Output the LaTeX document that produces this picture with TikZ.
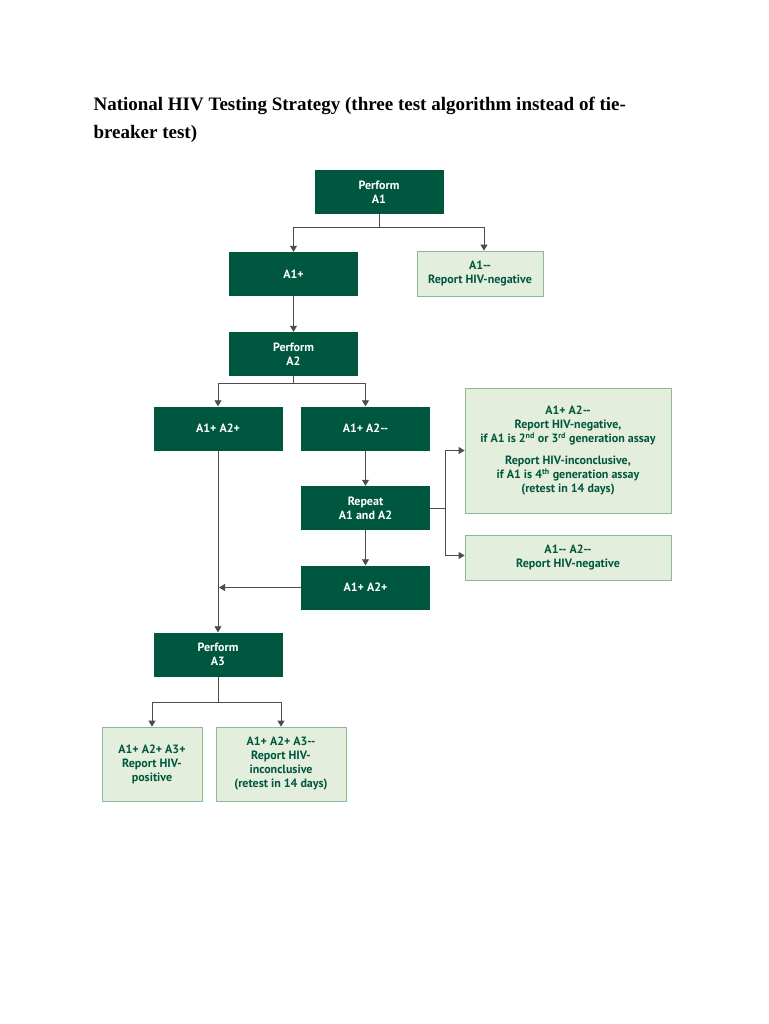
\documentclass[tikz,border=0pt]{standalone}
\usepackage{fontspec}
\setmainfont{Liberation Serif}
\newfontfamily\boxfont{PT Sans}
\usetikzlibrary{arrows.meta, positioning, calc}

\definecolor{darkgreen}{HTML}{00573F}
\definecolor{palegreen}{HTML}{E4EEDC}
\definecolor{edgegreen}{HTML}{8DB89A}

\begin{document}
\begin{tikzpicture}[
                    x=1pt, y=-1pt,
                    >={Triangle[width=7pt,length=6pt]},
                    action/.style={rectangle, fill=darkgreen, text=white, font=\boxfont\bfseries\fontsize{12}{14}\selectfont,
                                 minimum width=129pt, minimum height=44pt, align=center, inner sep=1pt},
                    report/.style={rectangle, fill=palegreen, draw=edgegreen, line width=0.8pt, text=darkgreen,
                                   font=\boxfont\bfseries\fontsize{12}{14}\selectfont, align=center, inner sep=1pt},
                    link/.style={draw=black!70, line width=0.8pt},
                ]
                \useasboundingbox (0,0) rectangle (768,1024);
                \node[anchor=west, font=\bfseries\fontsize{19}{28}\selectfont, align=left] (title) at (90,120)
                        {National HIV Testing Strategy (three test algorithm instead of tie-\\breaker test)};

                \node[action] (pa1) at (379,192) {Perform\\A1};
                \node[action] (a1p) at (293.5,274) {A1+};
                \node[report, minimum width=126pt, minimum height=45pt] (a1n) at (480,273.5) {A1--\\Report HIV-negative};
                \node[action] (pa2) at (293.5,354) {Perform\\A2};
                \node[action] (bothp) at (218,428.5) {A1+ A2+};
                \node[action] (a2n) at (365.5,428.5) {A1+ A2--};
                \node[action] (rep) at (365.5,508) {Repeat\\A1 and A2};
                \node[report, minimum width=206pt, minimum height=125pt] (res1) at (568,450.5)
                        {A1+ A2--\\Report HIV-negative,\\if A1 is 2\textsuperscript{nd} or 3\textsuperscript{rd} generation assay\\[8pt]
                         Report HIV-inconclusive,\\if A1 is 4\textsuperscript{th} generation assay\\(retest in 14 days)};
                \node[report, minimum width=206pt, minimum height=45pt] (res2) at (568,557.5) {A1-- A2--\\Report HIV-negative};
                \node[action] (again) at (365.5,587.5) {A1+ A2+};
                \node[action] (pa3) at (218,654.5) {Perform\\A3};
                \node[report, minimum width=100pt, minimum height=74pt] (pos) at (152,764) {A1+ A2+ A3+\\Report HIV-\\positive};
                \node[report, minimum width=130pt, minimum height=74pt] (inc) at (281,764) {A1+ A2+ A3--\\Report HIV-\\inconclusive\\(retest in 14 days)};

                % branches
                \draw[link, ->] (pa1.south) -- ++(0,13) -| (a1p.north);
                \draw[link, ->] (pa1.south) -- ++(0,13) -| ($(a1n.north)+(4,0)$);
                \draw[link, ->] (a1p) -- (pa2);
                \draw[link, ->] (pa2.south) -- ++(0,7) -| (bothp.north);
                \draw[link, ->] (pa2.south) -- ++(0,7) -| (a2n.north);
                \draw[link, ->] (a2n) -- (rep);
                \draw[link, ->] (rep.east) -- ++(15,0) |- (res1.west);
                \draw[link, ->] (rep.east) -- ++(15,0) |- ($(res2.west)+(0,-2)$);
                \draw[link, ->] (rep) -- (again);
                \draw[link, ->] (bothp) -- (pa3);
                \draw[link, ->] (again.west) -- ($(again.west -| bothp)+(1,0)$);
                \draw[link, ->] (pa3.south) -- ++(0,26) -| (pos.north);
                \draw[link, ->] (pa3.south) -- ++(0,26) -| (inc.north);
\end{tikzpicture}
\end{document}
